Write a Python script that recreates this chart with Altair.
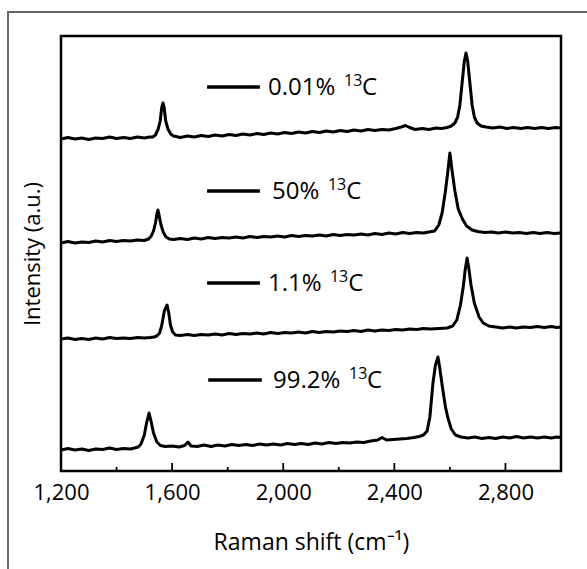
import altair as alt
import pandas as pd

# ---------------- data ----------------
series_names = ["0.01%", "50%", "1.1%", "99.2%"]
isotope_sup = ["13", "13", "13", "13"]
isotope_el = ["C", "C", "C", "C"]

# 0.01 % 13C
x1 = [1200,1225,1250,1275,1300,1325,1350,1375,1400,1425,1450,1475,1500,1520,1530,1540,1550,1557,1563,1567,1571,1577,1585,1595,1605,
      1630,1655,1680,1705,1730,1755,1780,1805,1830,1855,1880,1905,1930,1955,1980,2005,2030,2055,2080,2105,2130,2155,2180,2205,2230,
      2255,2280,2305,2330,2355,2380,2405,2425,2440,2455,2475,2500,2525,2550,2570,2590,2605,2618,2628,2636,2644,2652,2658,2664,2672,
      2680,2688,2698,2712,2730,2755,2780,2805,2830,2855,2880,2905,2930,2955,2980,3000]
y1 = [336,337.5,336,337,335.5,337,336.5,338,336.5,337.5,336.5,338,337,338,338,340,346,354,368,372,368,354,346,341,339,
      337.5,339,338,339.5,338.5,340,339,340.5,339.5,341,340,341.5,340.5,342,341,342.5,341.5,343,342,343.5,342.5,344,343,344.5,343.5,
      345,344,345.5,344.5,345.5,345,346.5,348,349.5,347.5,345.5,346.5,345.5,347,346.5,347.5,349,352,358,370,392,414,422,414,392,
      370,358,352,349,348,347,348,346.5,347.5,346.5,347.5,346.5,347.5,346.5,347.5,347]

# 50 % 13C
x2 = [1200,1225,1250,1275,1300,1325,1350,1375,1400,1425,1450,1475,1500,1515,1525,1533,1540,1546,1549,1553,1560,1568,1578,1590,1605,
      1630,1655,1680,1705,1730,1755,1780,1805,1830,1855,1880,1905,1930,1955,1980,2005,2030,2055,2080,2105,2130,2155,2180,2205,2230,
      2255,2280,2305,2330,2355,2380,2405,2430,2455,2480,2505,2525,2545,2560,2572,2583,2592,2600,2608,2618,2630,2645,2660,2680,2700,
      2725,2750,2775,2800,2825,2850,2875,2900,2925,2950,2975,3000]
y2 = [232,233.5,232,233,232.5,234,233,234.5,233.5,234.5,234,235,234.5,236,239,244,252,262,265,260,250,243,238,236,235.5,
      236.5,235.5,237,236,237.5,236.5,237.5,237,238,237,238.5,237.5,238.5,238,239,238,239.5,238.5,239.5,239,240,239,240.5,239.5,240.5,
      240,241,240,241.5,240.5,242,241,242.5,241.5,242.5,242,243,244,250,262,282,302,322,304,284,266,256,249,245,243.5,
      242.5,243,242,243,242,242.5,241.5,242.5,241.5,242.5,241.5,242]

# 1.1 % 13C
x3 = [1200,1225,1250,1275,1300,1325,1350,1375,1400,1425,1450,1475,1500,1520,1535,1545,1555,1563,1572,1582,1588,1594,1602,1612,1630,
      1655,1680,1705,1730,1755,1780,1805,1830,1855,1880,1905,1930,1955,1980,2005,2030,2055,2080,2105,2130,2155,2180,2205,2230,2255,
      2280,2305,2330,2355,2380,2405,2430,2455,2480,2505,2530,2560,2590,2610,2625,2638,2648,2655,2662,2668,2676,2688,2705,2720,2740,
      2765,2790,2815,2840,2865,2890,2915,2940,2965,2985,3000]
y3 = [136,137,135.5,136.5,135.5,137,136,137.5,136.5,137,136.5,137.5,137,137.5,138,139,142,150,164,170,162,150,143,140,139.5,
      140.5,139.5,140.5,140,141,140,141.5,140.5,141.5,141,142,141,142.5,141.5,142.5,142,143,142,143.5,142.5,143.5,143,144,143.5,144.5,
      143.5,145,144,145,144.5,145.5,145,146,145.5,146.5,146,146.5,147,149,155,170,188,205,217,207,190,172,158,152,149,
      148,147,148,147,148,147.5,148.5,147.5,148.5,147.5,148]

# 99.2 % 13C
x4 = [1200,1225,1250,1275,1300,1325,1350,1375,1400,1425,1450,1465,1478,1488,1500,1508,1517,1524,1533,1545,1558,1575,1600,1625,1645,
      1657,1668,1690,1715,1740,1765,1790,1815,1840,1865,1890,1915,1940,1965,1990,2015,2040,2065,2090,2115,2140,2165,2190,2215,2240,
      2265,2290,2315,2340,2356,2372,2395,2420,2445,2470,2490,2505,2518,2528,2539,2548,2557,2563,2572,2584,2593,2605,2620,2640,2665,
      2690,2715,2740,2765,2790,2815,2840,2865,2890,2915,2940,2965,2985,3000]
y4 = [25,26.5,25,26,24.5,26,25.5,27,25.5,26.5,26,27,28,31,40,52,62,54,42,33,29.5,28.5,29,28,29.5,
      33,29,28.5,30,28.5,30,29,30.5,29.5,30.5,29.5,31,30,31,30,31.5,30.5,31.5,30.5,32,31,32.5,31.5,32.5,32,
      33,32.5,34,35,37.5,35,35.5,36,36.5,37.5,38.5,40,44,58,92,110,118,108,90,68,57,46,40,38,37,
      38,36.5,37.5,36.5,38,37,38.5,37,38,37,38,37,38,37.5]

# legend entries written inside the plot (x in cm-1, y in a.u.)
label_y = [388, 284, 192, 95]
label_line_x1 = [1726, 1726, 1726, 1730]
label_line_x2 = [1916, 1916, 1916, 1923]
label_text_x = [1945, 1960, 1945, 1963]
label_sup_x = [2219, 2161, 2168, 2237]
label_el_x = [2284, 2227, 2234, 2302]

# axis
x_domain = [1200, 3000]
y_domain = [4, 439]
x_label_values = [1200, 1600, 2000, 2400, 2800]
major_ticks = [1600, 2000, 2400, 2800]
minor_ticks = [1400, 1800, 2200, 2600]

# ---------------- build tables ----------------
rows = []
for name, xs, ys in zip(series_names, [x1, x2, x3, x4], [y1, y2, y3, y4]):
    for i, (a, b) in enumerate(zip(xs, ys)):
        rows.append({"series": name, "shift": a, "intensity": b, "i": i})
spec = pd.DataFrame(rows)

legend = pd.DataFrame({
    "series": series_names,
    "sup": isotope_sup,
    "el": isotope_el,
    "y": label_y,
    "x1": label_line_x1,
    "x2": label_line_x2,
    "tx": label_text_x,
    "sx": label_sup_x,
    "ex": label_el_x,
})

ticks = pd.DataFrame({
    "x": major_ticks + minor_ticks,
    "y0": [y_domain[0]] * (len(major_ticks) + len(minor_ticks)),
    "y1": [y_domain[0] + 8] * len(major_ticks) + [y_domain[0] + 4] * len(minor_ticks),
})

FONT = "Open Sans"

xscale = alt.Scale(domain=x_domain, nice=False, zero=False)
yscale = alt.Scale(domain=y_domain, nice=False, zero=False)

xaxis = alt.Axis(
    values=x_label_values, format=",.0f", labelFlush=False, labelOverlap=False,
    tickSize=0, domain=False, grid=False, labelFontSize=22, labelFont=FONT,
    labelColor="black", labelPadding=11, title="Raman shift (cm⁻¹)",
    titleFont=FONT, titleFontSize=23, titleFontWeight="normal",
    titleColor="black", titlePadding=28,
)
yaxis = alt.Axis(
    labels=False, ticks=False, domain=False, grid=False,
    title="Intensity (a.u.)", titleFont=FONT, titleFontSize=22,
    titleFontWeight="normal", titleColor="black", titlePadding=17,
)

lines = alt.Chart(spec).mark_line(color="black", strokeWidth=3, strokeJoin="round").encode(
    x=alt.X("shift:Q", scale=xscale, axis=xaxis),
    y=alt.Y("intensity:Q", scale=yscale, axis=yaxis),
    detail="series:N",
    order="i:Q",
)

leg_lines = alt.Chart(legend).mark_rule(color="black", strokeWidth=3.5).encode(
    x="x1:Q", x2="x2:Q", y="y:Q",
)
leg_text = alt.Chart(legend).mark_text(
    align="left", baseline="middle", font=FONT, fontSize=24, color="black", dy=1,
).encode(x="tx:Q", y="y:Q", text="series:N")
leg_sup = alt.Chart(legend).mark_text(
    align="left", baseline="middle", font=FONT, fontSize=16, color="black", dy=-6,
).encode(x="sx:Q", y="y:Q", text="sup:N")
leg_el = alt.Chart(legend).mark_text(
    align="left", baseline="middle", font=FONT, fontSize=24, color="black", dy=1,
).encode(x="ex:Q", y="y:Q", text="el:N")

tick_marks = alt.Chart(ticks).mark_rule(color="black", strokeWidth=1.8).encode(
    x="x:Q", y="y0:Q", y2="y1:Q",
)

outer = alt.Chart(pd.DataFrame({"a": [0]})).mark_rect(
    fill="white", fillOpacity=0, stroke="#666666", strokeWidth=2,
).encode(
    x=alt.value(-53), x2=alt.value(620), y=alt.value(-24), y2=alt.value(620),
)

chart = alt.layer(outer, lines, leg_lines, leg_text, leg_sup, leg_el, tick_marks).properties(
    width=500, height=435,
    padding={"left": 61, "top": 36, "right": 26, "bottom": 98},
    autosize=alt.AutoSizeParams(type="none"),
    background="white",
).configure_view(stroke="black", strokeWidth=2.5)

chart.save("out.html", embed_options={"renderer": "svg", "actions": False})
